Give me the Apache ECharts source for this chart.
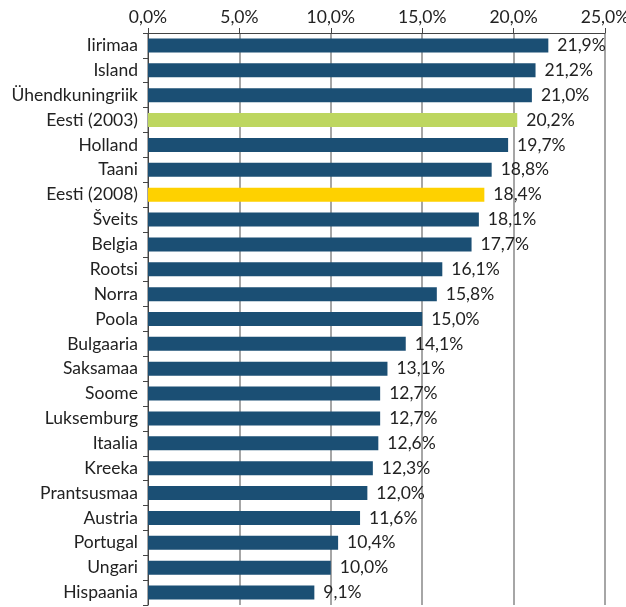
<!DOCTYPE html>
<html>
<head>
<meta charset="utf-8">
<script src="https://cdn.jsdelivr.net/npm/echarts@6/dist/echarts.min.js"></script>
<style>
  html, body { margin: 0; padding: 0; background: #fff; }
  #chart { width: 626px; height: 607px; }
</style>
</head>
<body>
<div id="chart"></div>
<script>
const categories = ['Iirimaa', 'Island', 'Ühendkuningriik', 'Eesti (2003)', 'Holland', 'Taani',
  'Eesti (2008)', 'Šveits', 'Belgia', 'Rootsi', 'Norra', 'Poola', 'Bulgaaria', 'Saksamaa',
  'Soome', 'Luksemburg', 'Itaalia', 'Kreeka', 'Prantsusmaa', 'Austria', 'Portugal', 'Ungari', 'Hispaania'];
const values = [21.9, 21.2, 21.0, 20.2, 19.7, 18.8, 18.4, 18.1, 17.7, 16.1, 15.8, 15.0, 14.1, 13.1,
  12.7, 12.7, 12.6, 12.3, 12.0, 11.6, 10.4, 10.0, 9.1];
// highlighted rows
const highlight = { 'Eesti (2003)': '#bdd65f', 'Eesti (2008)': '#fed100' };

const fmt = v => v.toFixed(1).replace('.', ',') + '%';

const chart = echarts.init(document.getElementById('chart'));
chart.setOption({
  animation: false,
  textStyle: { fontFamily: 'Lato, "Open Sans", sans-serif' },
  grid: { left: 148, right: 21, top: 33, bottom: 2, outerBoundsMode: 'none' },
  xAxis: {
    type: 'value',
    position: 'top',
    min: 0,
    max: 25,
    interval: 5,
    axisLine: { show: true, lineStyle: { color: '#444', width: 1 } },
    axisTick: { show: true, length: 5, lineStyle: { color: '#444' } },
    axisLabel: { color: '#222', fontSize: 17.5, margin: 7, formatter: v => fmt(v) },
    splitLine: { show: true, lineStyle: { color: '#888', width: 1.5 } }
  },
  yAxis: {
    type: 'category',
    inverse: true,
    data: categories,
    axisLine: { show: true, lineStyle: { color: '#444', width: 1 } },
    axisTick: { show: true, length: 5, lineStyle: { color: '#444' } },
    axisLabel: { color: '#222', fontSize: 17.5, margin: 10 }
  },
  series: [{
    type: 'bar',
    barWidth: 14,
    data: values.map((v, i) => ({
      value: v,
      itemStyle: { color: highlight[categories[i]] || '#1b4f74' }
    })),
    label: {
      show: true,
      position: 'right',
      distance: 9,
      color: '#222',
      fontSize: 17.5,
      formatter: p => fmt(p.value)
    }
  }]
});
</script>
</body>
</html>
